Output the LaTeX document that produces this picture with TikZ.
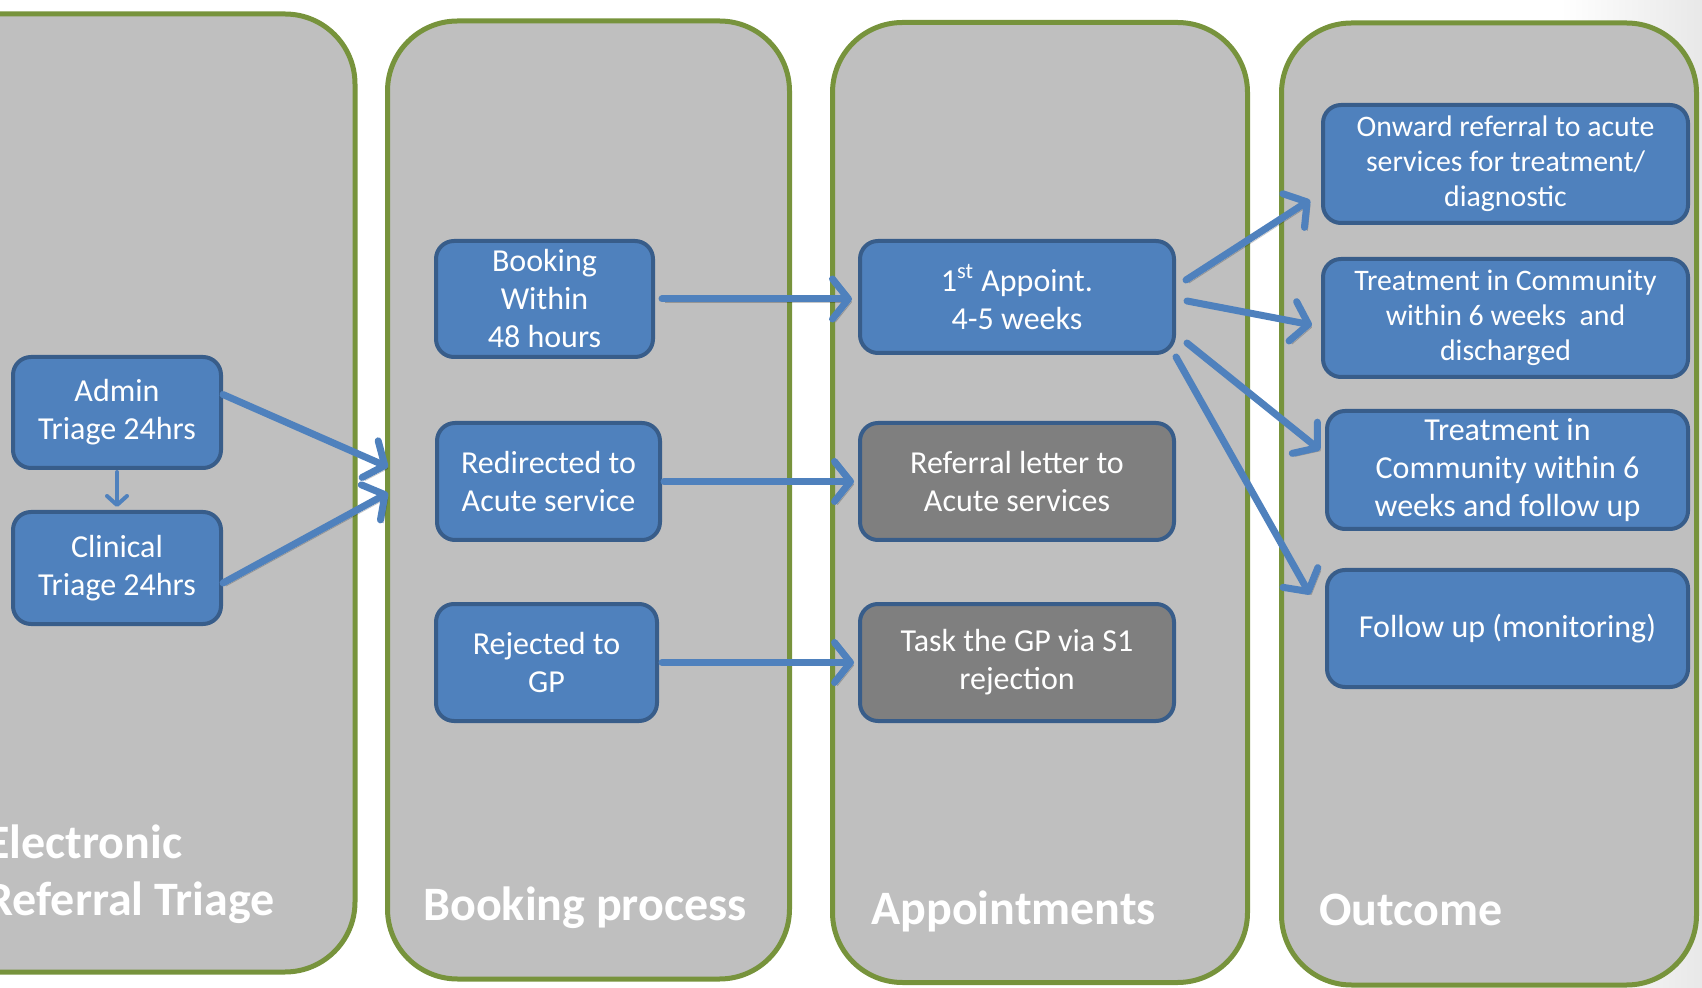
\documentclass[tikz,border=0pt]{standalone}
\usepackage{fontspec}
\setmainfont{Carlito}
\usetikzlibrary{arrows.meta}
\definecolor{panelfill}{HTML}{BFBFBF}
\definecolor{panelline}{HTML}{77933C}
\definecolor{boxfill}{HTML}{4F81BD}
\definecolor{boxline}{HTML}{385D8A}
\definecolor{grayfill}{HTML}{7F7F7F}
\tikzset{
  panel/.style={draw=panelline, line width=2.5pt, fill=panelfill, rounded corners=35pt, inner sep=0pt},
  bbox/.style={draw=boxline, line width=2pt, fill=boxfill, rounded corners=9pt, text=white,
    align=center, font=\fontsize{16}{19}\selectfont, inner sep=2pt},
  smalltext/.style={font=\fontsize{14.9}{17.5}\selectfont},
  gbox/.style={bbox, fill=grayfill},
  flow/.style={draw=boxfill, line width=3.5pt, line cap=round,
    -{Straight Barb[length=8pt,width=20pt,round]},
    preaction={draw=black, draw opacity=0.22, transform canvas={shift={(1.5pt,-1.5pt)}}}},
  smallflow/.style={draw=boxfill, line width=2pt, line cap=round,
    -{Straight Barb[length=4.5pt,width=10pt,round]}},
  title/.style={text=white, font=\fontsize{24}{29}\selectfont\bfseries, anchor=base west, inner sep=0pt}
}
\begin{document}
\begin{tikzpicture}[x=0.5pt,y=-0.5pt]
\useasboundingbox (0,0) rectangle (1702,988);
\clip (0,0) rectangle (1702,988);
\shade[left color=white, right color=black!9] (1560,0) rectangle (1702,988);
% panels
\node[panel, minimum width=227pt, minimum height=479pt] (p1) at (128,493) {};
\node[panel, minimum width=201pt, minimum height=479pt] (p2) at (588.5,500) {};
\node[panel, minimum width=207.5pt, minimum height=480pt] (p3) at (1040,502.5) {};
\node[panel, minimum width=207.5pt, minimum height=481pt] (p4) at (1489,504) {};
% titles
\node[title] (t1a) at (-14,858) {Electronic};
\node[title] (t1b) at (-14,915) {Referral Triage};
\node[title] (t2) at (423,920) {Booking process};
\node[title] (t3) at (871,924) {Appointments};
\node[title] (t4) at (1319,925) {Outcome};
% boxes
\node[bbox, minimum width=104pt, minimum height=55.5pt] (admin) at (117,412.5) {Admin\\Triage 24hrs};
\node[bbox, minimum width=104pt, minimum height=56pt] (clinical) at (117,568) {Clinical\\Triage 24hrs};
\node[bbox, minimum width=108.5pt, minimum height=58pt] (booking) at (544.5,299) {Booking\\Within\\48 hours};
\node[bbox, minimum width=111.5pt, minimum height=58.5pt] (redirected) at (548.5,481.5) {Redirected to\\Acute service};
\node[bbox, minimum width=110.5pt, minimum height=58.5pt] (rejected) at (546.5,662.5) {Rejected to\\GP};
\node[bbox, minimum width=157pt, minimum height=56pt] (appt) at (1017,297) {1\textsuperscript{st} Appoint.\\4-5 weeks};
\node[gbox, minimum width=157pt, minimum height=58.5pt] (letter) at (1017,481.5) {Referral letter to\\Acute services};
\node[gbox, minimum width=157pt, minimum height=58.5pt] (task) at (1017,662.5) {Task the GP via S1\\rejection};
\node[bbox, smalltext, minimum width=182.5pt, minimum height=59pt] (onward) at (1505.5,164) {Onward referral to acute\\services for treatment/\\diagnostic};
\node[bbox, smalltext, minimum width=182.5pt, minimum height=59pt] (tdis) at (1505.5,318) {Treatment in Community\\within 6 weeks\ \ and\\discharged};
\node[bbox, minimum width=180.5pt, minimum height=59pt] (tfol) at (1507.5,470) {Treatment in\\Community within 6\\weeks and follow up};
\node[bbox, minimum width=180.5pt, minimum height=58.5pt] (fmon) at (1507.5,628.5) {Follow up (monitoring)};
% connectors
\draw[smallflow] ([yshift=-1pt]admin.south) -- ([yshift=1.5pt]clinical.north);
\draw[flow] ([yshift=9pt]admin.east) -- ([shift={(1.5pt,16.5pt)}]p2.west);
\draw[flow] ([yshift=-7.5pt]clinical.east) -- ([shift={(1.5pt,3.5pt)}]p2.west);
\draw[flow] ([xshift=3.5pt]booking.east) -- ([xshift=-3pt]booking.east -| appt.west);
\draw[flow] ([xshift=1pt]redirected.east) -- ([xshift=-2pt]redirected.east -| letter.west);
\draw[flow] ([xshift=1.5pt]rejected.east) -- ([xshift=-2pt]rejected.east -| task.west);
\draw[flow] ([shift={(5pt,8.5pt)}]appt.east) -- ([shift={(-5.5pt,-18pt)}]onward.west);
\draw[flow] ([shift={(5.5pt,-2pt)}]appt.east) -- ([shift={(-4.5pt,-3.5pt)}]tdis.west);
\draw[flow] ([shift={(5.5pt,-23pt)}]appt.east) -- ([shift={(-2.5pt,10pt)}]tfol.west);
\draw[flow] ([shift={(0pt,-1pt)}]appt.south east) -- ([shift={(-7.5pt,17pt)}]fmon.west);
\end{tikzpicture}
\end{document}
